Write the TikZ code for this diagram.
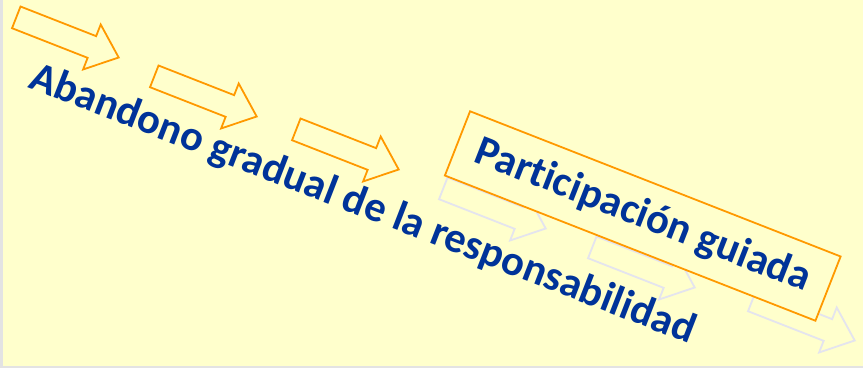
\documentclass[tikz,border=0pt]{standalone}
\usepackage{fontspec}
\setmainfont{Carlito}[Ligatures=NoCommon]
\usetikzlibrary{shapes.arrows}
\definecolor{slidebg}{HTML}{FFFFCC}
\definecolor{edgegray}{HTML}{E3E3E3}
\definecolor{steporange}{HTML}{FF9900}
\definecolor{fadegray}{HTML}{E4E4EE}
\definecolor{textblue}{HTML}{003399}
\tikzstyle{steparrow} = [single arrow, draw=steporange, line width=1.8pt, minimum height=110pt, minimum width=46pt, single arrow head extend=12.5pt, single arrow tip angle=80, inner xsep=0pt, inner ysep=10.75pt, rotate=-21.4, anchor=tip]
\tikzstyle{fadearrow} = [steparrow, draw=fadegray]
\tikzstyle{bluetext} = [text=textblue, font=\fontsize{42.5}{46}\selectfont\bfseries, inner sep=0pt]

\begin{document}
\begin{tikzpicture}[x=1pt, y=-1pt]
      \useasboundingbox (0, 0) rectangle (863, 368);
      \fill[edgegray] (0, 0) rectangle (863, 368);
      \fill[slidebg] (3, 0) rectangle (863, 366);

      % faded steps behind the box
      \node[fadearrow] (fade1) at (547, 229) {};
      \node[fadearrow] (fade2) at (696, 288) {};
      \node[fadearrow] (fade3) at (856, 341) {};

      \node[bluetext, draw=steporange, fill=slidebg, line width=1.8pt, minimum width=398pt, minimum height=69pt, rotate=-21.4] (guided) at (642.75, 216) {Participación guiada};

      % orange steps
      \node[steparrow] (step1) at (120, 58) {};
      \node[steparrow] (step2) at (258, 117) {};
      \node[steparrow] (step3) at (400, 170) {};

      \node[bluetext, rotate=-21.2, anchor=base west] (release) at (27, 87) {Abandono gradual de la responsabilidad};
    \end{tikzpicture}
\end{document}
